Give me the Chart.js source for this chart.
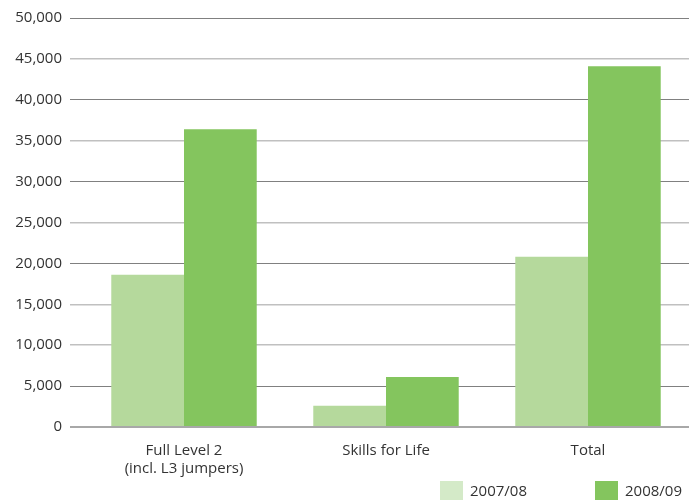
<!DOCTYPE html>
<html>
<head>
<meta charset="utf-8">
<script src="https://cdn.jsdelivr.net/npm/chart.js@4"></script>
<style>
  html, body { margin: 0; padding: 0; background: #fff; }
  #wrap { position: relative; width: 700px; height: 502px; }
  canvas { position: absolute; left: 0; top: 0; }
  .leg { position: absolute; font-family: "Open Sans", sans-serif; font-size: 15px; color: #333; line-height: 19px; }
  .box { position: absolute; width: 23px; height: 19px; }
</style>
</head>
<body>
<div id="wrap">
  <canvas id="c" width="700" height="502"></canvas>
  <div class="box" id="b1" style="left:440px; top:481px;"></div>
  <div class="leg" id="t1" style="left:470px; top:481px;"></div>
  <div class="box" id="b2" style="left:595px; top:481px;"></div>
  <div class="leg" id="t2" style="left:625px; top:481px;"></div>
</div>
<script>
const categories = [["Full Level 2", "(incl. L3 jumpers)"], "Skills for Life", "Total"];
const seriesNames = ["2007/08", "2008/09"];
const values0708 = [18600, 2600, 20800];
const values0809 = [36400, 6100, 44100];
const yTicks = [0, 5000, 10000, 15000, 20000, 25000, 30000, 35000, 40000, 45000, 50000];

const barColors = ["#b5d99c", "#84c55e"];
const legendColors = ["#d4eac8", "#84c55e"];
const darkGrid = [5000, 20000, 30000, 40000, 50000];

document.getElementById('b1').style.background = legendColors[0];
document.getElementById('b2').style.background = legendColors[1];
document.getElementById('t1').textContent = seriesNames[0];
document.getElementById('t2').textContent = seriesNames[1];

Chart.defaults.font.family = '"Open Sans", sans-serif';
Chart.defaults.color = '#333';

new Chart(document.getElementById('c'), {
  type: 'bar',
  data: {
    labels: categories,
    datasets: [
      { label: seriesNames[0], data: values0708, backgroundColor: barColors[0], barPercentage: 1.0, categoryPercentage: 0.72 },
      { label: seriesNames[1], data: values0809, backgroundColor: barColors[1], barPercentage: 1.0, categoryPercentage: 0.72 }
    ]
  },
  options: {
    responsive: false,
    animation: false,
    layout: { padding: { top: 18, right: 11, bottom: 17, left: 0 } },
    plugins: { legend: { display: false }, tooltip: { enabled: false } },
    scales: {
      x: {
        grid: { display: false },
        border: { display: false },
        ticks: { font: { size: 15 }, color: '#333', padding: 7, maxRotation: 0 }
      },
      y: {
        min: 0, max: 50000,
        afterBuildTicks: (s) => { s.ticks = yTicks.map(v => ({ value: v })); },
        afterFit: (s) => { s.width = 83; },
        border: { display: false },
        grid: {
          color: (ctx) => {
            const v = ctx.tick ? ctx.tick.value : null;
            if (v === 0) return '#a8a8a8';
            return darkGrid.includes(v) ? '#808080' : '#c0c0c0';
          },
          lineWidth: (ctx) => {
            const v = ctx.tick ? ctx.tick.value : null;
            if (v === 0) return 2;
            return darkGrid.includes(v) ? 1 : 1.5;
          },
          tickLength: 13
        },
        ticks: {
          font: { size: 15 }, color: '#333', padding: 8,
          callback: (v) => v.toLocaleString('en-US')
        }
      }
    }
  }
});
</script>
</body>
</html>
